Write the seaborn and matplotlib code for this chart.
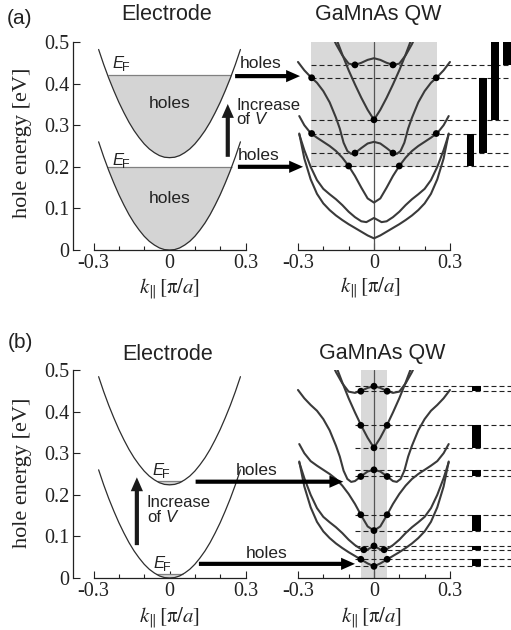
import numpy as np
import pandas as pd
import matplotlib
matplotlib.use("Agg")
import matplotlib.pyplot as plt
import matplotlib.transforms as mtransforms
import seaborn as sns

# ---------------- data ----------------
# electrode dispersion, half branch k >= 0 (pi/a), energy (eV)
elec_k = [0.00, 0.02, 0.04, 0.06, 0.08, 0.10, 0.12, 0.14, 0.16, 0.18, 0.20, 0.22, 0.24, 0.26, 0.28]
elec_E = [0.000, 0.001, 0.005, 0.012, 0.021, 0.033, 0.048, 0.065, 0.085, 0.108, 0.133, 0.161, 0.191, 0.224, 0.260]
elec_shift_a = [0.0, 0.222]
fermi_a = [0.200, 0.420]
holes_E_a = [0.123, 0.351]
elec_shift_b = [0.0, 0.224]
fermi_b = [0.010, 0.232]

# GaMnAs QW sub-bands, half branch k >= 0
b1_k = [0, .025, .05, .075, .1, .125, .15, .175, .2, .225, .25, .275, .295]
b1_E = [.028, .035, .044, .053, .062, .072, .083, .096, .112, .135, .170, .220, .280]
b2_k = [0, .015, .03, .05, .075, .1, .125, .15, .175, .2, .225, .25, .275, .295]
b2_E = [.077, .072, .067, .069, .079, .092, .108, .122, .134, .147, .168, .200, .240, .278]
b3_k = [0, .025, .05, .075, .1, .125, .15, .175, .2, .225, .25, .275, .295]
b3_E = [.114, .124, .150, .178, .202, .222, .238, .250, .260, .270, .281, .300, .322]
b4_k = [0, .025, .05, .075, .09, .105, .12, .135, .15, .175, .2, .225, .25, .275, .3]
b4_E = [.260, .256, .245, .233, .231, .238, .258, .292, .318, .355, .382, .402, .416, .432, .452]
b5_k = [0, .025, .05, .075, .1, .125, .15]
b5_E = [.313, .337, .366, .398, .432, .470, .510]
b6_k = [0, .025, .05, .075, .1, .125, .15, .165]
b6_E = [.461, .457, .450, .445, .448, .468, .495, .515]

# panel (a): window, dots, levels, bars
window_a = [-0.25, 0.25, 0.20, 0.50]
dots_a_k = [-0.075, 0.075, -0.246, 0.246, 0.0, -0.246, 0.246, -0.075, 0.075, -0.100, 0.100]
dots_a_E = [0.445, 0.445, 0.414, 0.414, 0.313, 0.280, 0.280, 0.233, 0.233, 0.202, 0.202]
levels_a = [0.445, 0.414, 0.313, 0.280, 0.233, 0.202]
level_start_a = -0.25
bars_a_k = [0.381, 0.430, 0.478, 0.526]
bars_a_lo = [0.202, 0.233, 0.313, 0.445]
bars_a_hi = [0.280, 0.414, 0.500, 0.500]

# panel (b)
window_b = [-0.052, 0.052, 0.0, 0.50]
dots_b_k = [0, -0.052, 0.052, -0.052, 0.052, 0, 0, -0.052, 0.052,
            -0.052, 0.052, 0, 0, -0.04, 0.04, -0.052, 0.052, 0]
dots_b_E = [0.461, 0.449, 0.449, 0.367, 0.367, 0.313, 0.260, 0.244, 0.244,
            0.152, 0.152, 0.114, 0.077, 0.068, 0.068, 0.045, 0.045, 0.028]
levels_b = [0.461, 0.449, 0.367, 0.313, 0.260, 0.244, 0.152, 0.114, 0.077, 0.068, 0.045, 0.028]
level_start_b = -0.075
bars_b_k = [0.405] * 6
bars_b_lo = [0.449, 0.313, 0.244, 0.114, 0.068, 0.028]
bars_b_hi = [0.461, 0.367, 0.260, 0.152, 0.077, 0.045]

# arrows: (start k in electrode axes, end k in QW axes, energy)
arrows_a = [(0.259, -0.292, 0.418), (0.270, -0.280, 0.200)]
arrows_b = [(0.103, -0.121, 0.2315), (0.116, -0.075, 0.034)]
vup_a = (0.230, 0.224, 0.351)
vup_b = (-0.129, 0.079, 0.242)

ytick_vals = [0, 0.1, 0.2, 0.3, 0.4, 0.5]
ytick_labels = ["0", "0.1", "0.2", "0.3", "0.4", "0.5"]
xtick_vals = [-0.3, 0.0, 0.3]
xtick_labels = ["-0.3", "0", "0.3"]
xminor_vals = [-0.2, -0.1, 0.1, 0.2]

# ---------------- style ----------------
sns.set_theme(style="ticks")
plt.rcParams["font.family"] = ["Liberation Sans", "DejaVu Sans"]
plt.rcParams["mathtext.fontset"] = "stix"

W, H = 511, 630
fig = plt.figure(figsize=(W / 100, H / 100), dpi=100)
fig.patch.set_facecolor("white")
PX = mtransforms.Affine2D().scale(1.0 / W, -1.0 / H).translate(0, 1) + fig.transFigure

INK = "#222222"
BAND = "#3a3a3a"
SERIF = "Liberation Serif"


def add_ax(x0, y0, x1, y1):
    ax = fig.add_axes([x0 / W, 1 - y1 / H, (x1 - x0) / W, (y1 - y0) / H])
    ax.set_facecolor("none")
    return ax


def mirror(k, E):
    k = np.asarray(k, float)
    E = np.asarray(E, float)
    return np.concatenate([-k[::-1], k[1:]]), np.concatenate([E[::-1], E[1:]])


bands = [(b1_k, b1_E), (b2_k, b2_E), (b3_k, b3_E), (b4_k, b4_E), (b5_k, b5_E), (b6_k, b6_E)]
frames = []
for i, (k, E) in enumerate(bands):
    kk, EE = mirror(k, E)
    frames.append(pd.DataFrame({"k": kk, "E": EE, "band": i}))
bands_df = pd.concat(frames, ignore_index=True)

klabel = r"$k_{\|}\,[\mathrm{\pi}/a]$"


def style_common(ax):
    ax.set_ylim(0, 0.5)
    ax.spines["top"].set_visible(False)
    ax.spines["right"].set_visible(False)
    ax.spines["bottom"].set_bounds(-0.3, 0.3)
    for s in ax.spines.values():
        s.set_color(INK)
        s.set_linewidth(0.9)
    ax.set_xticks(xtick_vals)
    ax.set_xticklabels(xtick_labels)
    ax.set_xticks(xminor_vals, minor=True)
    ax.tick_params(which="both", direction="in", color=INK, width=0.8,
                   labelsize=14.5, labelfontfamily=SERIF, labelcolor=INK)
    ax.tick_params(which="major", length=5, pad=3)
    ax.tick_params(which="minor", length=2.6)
    ax.tick_params(axis="y", which="minor", left=False)


def electrode_panel(ax, shifts, fermis, holes_E, xl_px, yl_px):
    ax.set_xlim(-0.380, 0.377)
    style_common(ax)
    ax.spines["left"].set_bounds(0, 0.5)
    ax.set_yticks(ytick_vals)
    ax.set_yticklabels(ytick_labels)
    frames = []
    for j, (sh, ef) in enumerate(zip(shifts, fermis)):
        kk, EE = mirror(elec_k, np.asarray(elec_E) + sh)
        ax.fill_between(kk, EE, ef, where=EE <= ef, interpolate=True,
                        color="#d4d4d4", lw=0, zorder=1)
        kc = np.interp(ef, np.asarray(elec_E) + sh, elec_k)
        ax.hlines(ef, -kc, kc, color="#808080", lw=0.9, zorder=2)
        frames.append(pd.DataFrame({"k": kk, "E": EE, "curve": j}))
    for he in holes_E:
        ax.text(0.0, he, "holes", ha="center", va="center",
                fontsize=12.5, color=INK, zorder=3)
    df = pd.concat(frames, ignore_index=True)
    sns.lineplot(data=df, x="k", y="E", units="curve", estimator=None, sort=False,
                 color="#2e2e2e", lw=0.9, ax=ax, legend=False, zorder=3)
    ax.set_xlabel(klabel, fontsize=15, color=INK)
    ax.xaxis.set_label_coords(xl_px, yl_px, transform=PX)
    ax.set_ylabel("hole energy [eV]", fontsize=16, fontfamily=SERIF, color=INK)


def qw_panel(ax, window, dots_k, dots_E, levels, lstart, bk, blo, bhi, bw, xl_px, yl_px):
    ax.set_xlim(-0.371, 0.541)
    style_common(ax)
    ax.spines["left"].set_visible(False)
    ax.tick_params(axis="y", which="both", left=False, labelleft=False)
    ax.fill_between([window[0], window[1]], window[2], window[3],
                    color="#d9d9d9", lw=0, zorder=0)
    ax.axvline(0, color="#555555", lw=0.9, zorder=1)
    ax.hlines(levels, lstart, 0.541, colors=INK, lw=0.8,
              linestyles=[(0, (4.5, 2.7))], zorder=2)
    ax.bar(bk, np.asarray(bhi) - np.asarray(blo), bottom=blo, width=bw,
           color="black", lw=0, zorder=3)
    sns.lineplot(data=bands_df, x="k", y="E", units="band", estimator=None, sort=False,
                 color=BAND, lw=1.5, ax=ax, legend=False, zorder=3)
    sns.scatterplot(x=dots_k, y=dots_E, ax=ax, color="black", s=24,
                    edgecolor="none", legend=False, zorder=5)
    ax.set_ylabel("")
    ax.set_xlabel(klabel, fontsize=15, color=INK)
    ax.xaxis.set_label_coords(xl_px, yl_px, transform=PX)


ARROW = "simple,head_length=1.0,head_width=0.88,tail_width=0.3"


def harrows(axl, axr, arrows):
    for k0, k1, e in arrows:
        axr.annotate("", xy=(k1, e), xycoords="data", xytext=(k0, e),
                     textcoords=axl.transData,
                     arrowprops=dict(arrowstyle=ARROW, color="black", lw=0,
                                     shrinkA=0, shrinkB=0, mutation_scale=10),
                     annotation_clip=False, zorder=6)


def varrow(ax, v):
    k, e0, e1 = v
    ax.annotate("", xy=(k, e1), xytext=(k, e0),
                arrowprops=dict(arrowstyle=ARROW, color="#1a1a1a", lw=0,
                                shrinkA=0, shrinkB=0, mutation_scale=10),
                annotation_clip=False)


def ef_label(x, y):
    fig.text(x, y, "E", transform=PX, fontsize=12, fontstyle="italic", color=INK,
             ha="left", va="baseline")
    fig.text(x + 10, y + 3, "F", transform=PX, fontsize=9, color=INK,
             ha="left", va="baseline")


def of_v(x, y):
    fig.text(x, y, "Increase", transform=PX, fontsize=12, ha="left", va="center", color=INK)
    fig.text(x, y + 15, "of", transform=PX, fontsize=12, ha="left", va="center", color=INK)
    fig.text(x + 18.5, y + 15, "V", transform=PX, fontsize=12, fontstyle="italic",
             ha="left", va="center", color=INK)


# ---------------- panel (a) ----------------
axLa = add_ax(73.3, 42, 265, 250)
axRa = add_ax(280, 42, 511, 250)
electrode_panel(axLa, elec_shift_a, fermi_a, holes_E_a, 169.5, 276)
axLa.yaxis.set_label_coords(32.5, 143, transform=PX)
qw_panel(axRa, window_a, dots_a_k, dots_a_E, levels_a, level_start_a,
         bars_a_k, bars_a_lo, bars_a_hi, 0.030, 371, 275)
harrows(axLa, axRa, arrows_a)
varrow(axLa, vup_a)

fig.text(20, 18, "(a)", transform=PX, fontsize=15, ha="center", va="center", color=INK)
fig.text(167, 14.5, "Electrode", transform=PX, fontsize=15.5, ha="center", va="center", color=INK)
fig.text(378, 14.5, "GaMnAs QW", transform=PX, fontsize=15.5, ha="center", va="center", color=INK)
ef_label(112, 68)
ef_label(112, 165)
fig.text(240, 68, "holes", transform=PX, fontsize=12.5, ha="left", va="baseline", color=INK)
fig.text(238, 160, "holes", transform=PX, fontsize=12.5, ha="left", va="baseline", color=INK)
of_v(236, 105)

# ---------------- panel (b) ----------------
axLb = add_ax(73.3, 370, 265, 578)
axRb = add_ax(280, 370, 511, 578)
electrode_panel(axLb, elec_shift_b, fermi_b, [], 170, 605)
axLb.yaxis.set_label_coords(32.5, 472.5, transform=PX)
qw_panel(axRb, window_b, dots_b_k, dots_b_E, levels_b, level_start_b,
         bars_b_k, bars_b_lo, bars_b_hi, 0.033, 372, 605)
harrows(axLb, axRb, arrows_b)
varrow(axLb, vup_b)

fig.text(20, 342, "(b)", transform=PX, fontsize=15, ha="center", va="center", color=INK)
fig.text(168, 354, "Electrode", transform=PX, fontsize=15.5, ha="center", va="center", color=INK)
fig.text(382, 353, "GaMnAs QW", transform=PX, fontsize=15.5, ha="center", va="center", color=INK)
ef_label(152, 475)
ef_label(153, 568)
fig.text(236, 475, "holes", transform=PX, fontsize=12.5, ha="left", va="baseline", color=INK)
fig.text(246, 558, "holes", transform=PX, fontsize=12.5, ha="left", va="baseline", color=INK)
of_v(147, 502.5)

fig.savefig("out.png", dpi=100)
